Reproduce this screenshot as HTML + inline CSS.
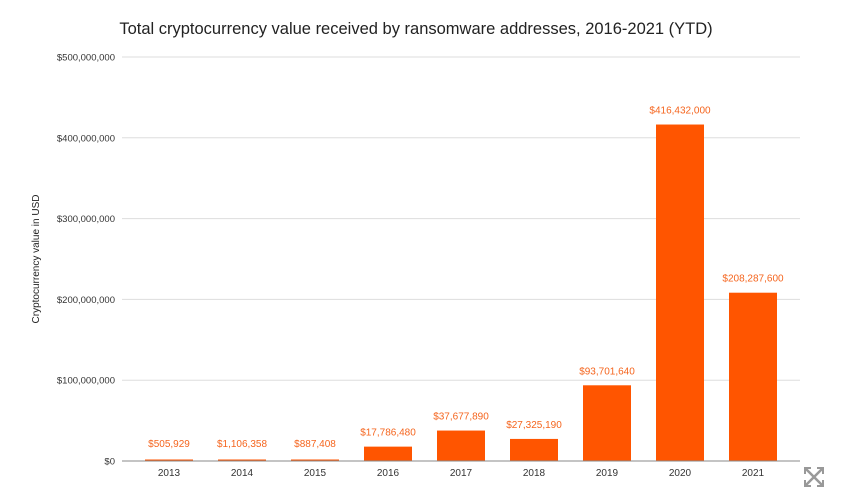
<!DOCTYPE html>
<html><head><meta charset="utf-8"><style>
body{margin:0;background:#fff;}
svg{display:block;font-family:"Liberation Sans",sans-serif;}
</style></head><body>
<svg id="chart" width="866" height="495">
<text x="416" y="34" font-size="16.5" text-anchor="middle" fill="#222">Total cryptocurrency value received by ransomware addresses, 2016-2021 (YTD)</text>
<text transform="translate(39,259) rotate(-90)" font-size="10" text-anchor="middle" fill="#222">Cryptocurrency value in USD</text>
<g id="grid"></g><g id="bars"></g>
<g stroke="#999" stroke-width="2.5" fill="none">
<path d="M806 469 L822 485 M822 469 L806 485"/>
<path d="M805 474 V468 H811 M817 468 H823 V474 M823 480 V486 H817 M811 486 H805 V480" stroke-width="2"/>
</g>
</svg>
<script>
const categories=["2013","2014","2015","2016","2017","2018","2019","2020","2021"];
const values=[505929,1106358,887408,17786480,37677890,27325190,93701640,416432000,208287600];
const valueLabels=["$505,929","$1,106,358","$887,408","$17,786,480","$37,677,890","$27,325,190","$93,701,640","$416,432,000","$208,287,600"];
const yTicks=[0,100000000,200000000,300000000,400000000,500000000];
const yTickLabels=["$0","$100,000,000","$200,000,000","$300,000,000","$400,000,000","$500,000,000"];
const NS="http://www.w3.org/2000/svg";
const y0=461,yTop=57,maxV=500000000,left=122,right=800;
const yS=v=>y0-(v/maxV)*(y0-yTop);
const xC=i=>169+i*73;
const bw=48;
function mk(t,a,p){const e=document.createElementNS(NS,t);for(const k in a)e.setAttribute(k,a[k]);p.appendChild(e);return e;}
const grid=document.getElementById('grid'),bars=document.getElementById('bars');
yTicks.forEach((v,i)=>{
 const l=mk('line',{x1:left,x2:right,y1:yS(v),y2:yS(v),stroke:i===0?'#888':'#ddd','stroke-width':1},grid);
 
 
 const t=mk('text',{x:115,y:yS(v)+3.5,'font-size':9.5,'text-anchor':'end',fill:'#333'},grid);
 t.textContent=yTickLabels[i];
 
 
});
categories.forEach((c,i)=>{
 const h=Math.max(1.5,y0-yS(values[i]));
 const r=mk('rect',{x:xC(i)-bw/2,y:y0-h,width:bw,height:h,fill:'#ff5500'},bars);
 
 
 const vl=mk('text',{x:xC(i),y:Math.min(y0-h,y0-3)-11,'font-size':10,'text-anchor':'middle',fill:'#f5651e'},bars);
 vl.textContent=valueLabels[i];
 
 
 const xl=mk('text',{x:xC(i),y:476,'font-size':10,'text-anchor':'middle',fill:'#333'},bars);
 xl.textContent=c;
 
 
});
const ax=mk('line',{x1:left,x2:right,y1:y0,y2:y0,stroke:'#888','stroke-width':1},bars);


</script>
</body></html>
